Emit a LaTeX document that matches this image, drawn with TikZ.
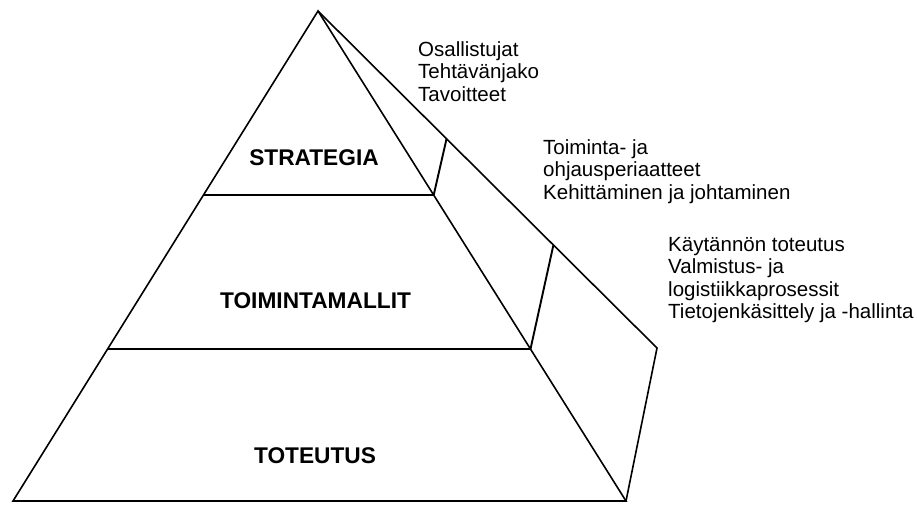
\documentclass[tikz,border=0pt]{standalone}
\usepackage{fontspec}
\setmainfont{Liberation Sans}

\tikzset{
  edgeline/.style={line width=1.6pt},
  bandline/.style={line width=1.9pt},
  layer/.style={font=\fontsize{22.7}{24}\selectfont\bfseries, inner sep=0pt},
  note/.style={font=\fontsize{20.5}{22.5}\selectfont, align=left, anchor=north west, inner sep=0pt}
}

\begin{document}
\begin{tikzpicture}[x=1pt,y=-1pt]
        \useasboundingbox (0,0) rectangle (917,504);
        % corners of the pyramid
        \coordinate (apex) at (318,11);
        \coordinate (bl) at (13,501);
        \coordinate (br) at (626,501);
        \coordinate (back) at (657,348);
        % layer borders
        \coordinate (s1l) at (203.5,195);
        \coordinate (s1r) at (433.7,195);
        \coordinate (t1) at (446.5,139);
        \coordinate (s2l) at (107.6,349);
        \coordinate (s2r) at (530.5,349);
        \coordinate (t2) at (553.4,245);

        \draw[edgeline] (bl) -- (apex) -- (br) -- cycle;
        \draw[edgeline] (apex) -- (back) -- (br);
        \draw[bandline] (s1l) -- (s1r) -- (t1);
        \draw[bandline] (s2l) -- (s2r) -- (t2);

        \node[layer] (strategy) at (314,157.5) {STRATEGIA};
        \node[layer] (models) at (315.5,300.5) {TOIMINTAMALLIT};
        \node[layer] (implementation) at (315,456) {TOTEUTUS};

        \node[note] (goals) at (418,41) {Osallistujat\\Tehtävänjako\\Tavoitteet};
        \node[note] (principles) at (543,139) {Toiminta- ja\\ohjausperiaatteet\\Kehittäminen ja johtaminen};
        \node[note] (practice) at (668,237) {Käytännön toteutus\\Valmistus- ja\\logistiikkaprosessit\\Tietojenkäsittely ja -hallinta};
    \end{tikzpicture}
\end{document}
